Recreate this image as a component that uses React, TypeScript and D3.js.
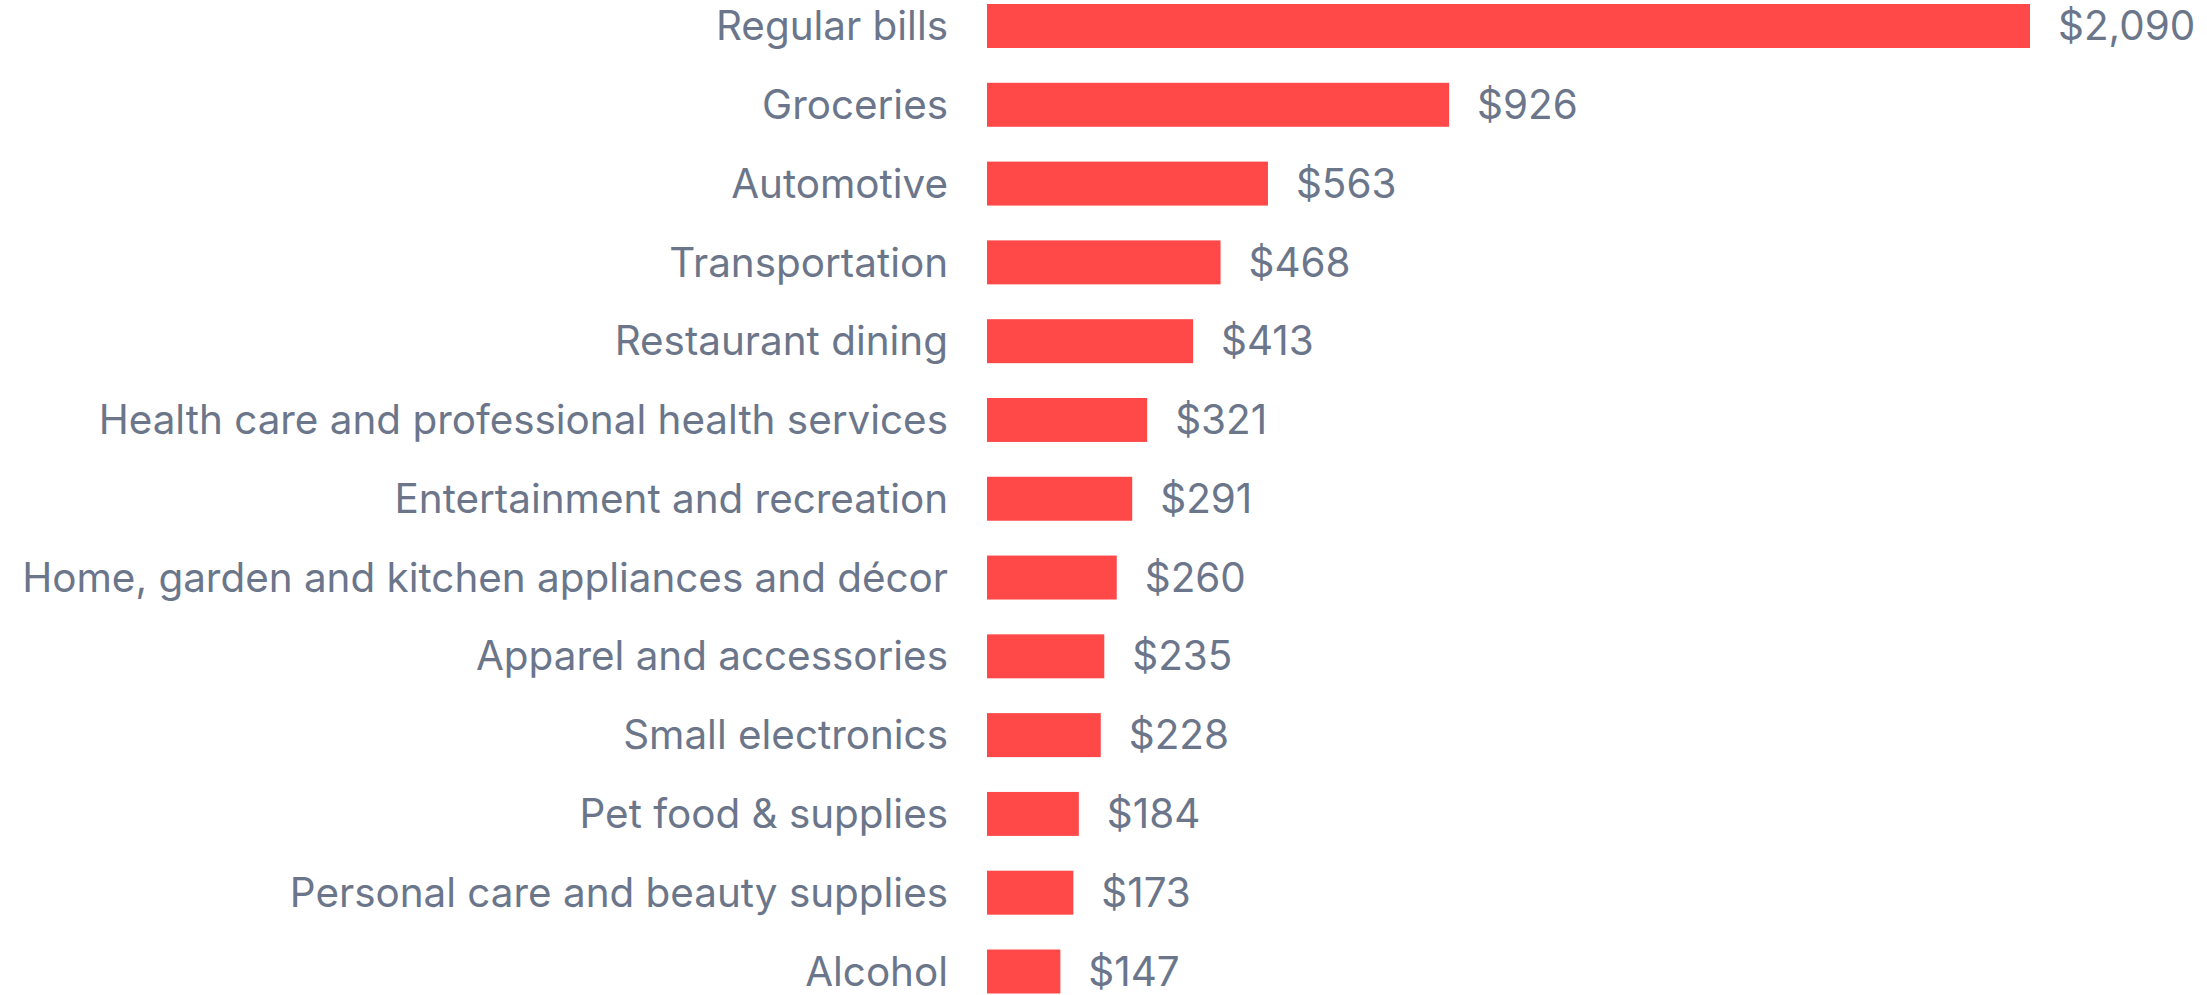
import React, { useEffect, useRef } from 'react';
import * as d3 from 'd3';

const categories = [
  'Regular bills',
  'Groceries',
  'Automotive',
  'Transportation',
  'Restaurant dining',
  'Health care and professional health services',
  'Entertainment and recreation',
  'Home, garden and kitchen appliances and décor',
  'Apparel and accessories',
  'Small electronics',
  'Pet food & supplies',
  'Personal care and beauty supplies',
  'Alcohol',
];
const spending = [2090, 926, 563, 468, 413, 321, 291, 260, 235, 228, 184, 173, 147];

const W = 2207;
const H = 995;
const barColor = '#ff4848';
const textColor = '#6b768b';

export default function App() {
  const ref = useRef<SVGSVGElement | null>(null);

  useEffect(() => {
    const svg = d3.select(ref.current);
    svg.selectAll('*').remove();

    const data = categories.map((c, i) => ({ name: c, value: spending[i] }));

    const x = d3.scaleLinear().domain([0, 2090]).range([987, 2030]);
    const y = d3
      .scaleBand()
      .domain(categories)
      .range([-13.4, 1010.9])
      .paddingInner(0.442)
      .paddingOuter(0.221);

    svg
      .append('g')
      .selectAll('rect')
      .data(data)
      .enter()
      .append('rect')
      .attr('x', x(0))
      .attr('y', d => y(d.name)!)
      .attr('width', d => x(d.value) - x(0))
      .attr('height', y.bandwidth())
      .attr('fill', barColor);

    const font = 'Inter, "Noto Sans", sans-serif';
    const size = '40.4px';

    svg
      .append('g')
      .selectAll('text')
      .data(data)
      .enter()
      .append('text')
      .attr('x', x(0) - 39)
      .attr('y', d => y(d.name)! + y.bandwidth() / 2)
      .attr('dy', '0.35em')
      .attr('text-anchor', 'end')
      .attr('fill', textColor)
      .style('font-family', font)
      .style('font-size', size)
      .text(d => d.name);

    svg
      .append('g')
      .selectAll('text')
      .data(data)
      .enter()
      .append('text')
      .attr('x', d => x(d.value) + 28)
      .attr('y', d => y(d.name)! + y.bandwidth() / 2)
      .attr('dy', '0.35em')
      .attr('fill', textColor)
      .style('font-family', font)
      .style('font-size', size)
      .text(d => d3.format('$,')(d.value));
  }, []);

  return (
    <svg
      ref={ref}
      width={W}
      height={H}
      style={{ position: 'absolute', left: 0, top: 0, background: '#fff' }}
    />
  );
}
